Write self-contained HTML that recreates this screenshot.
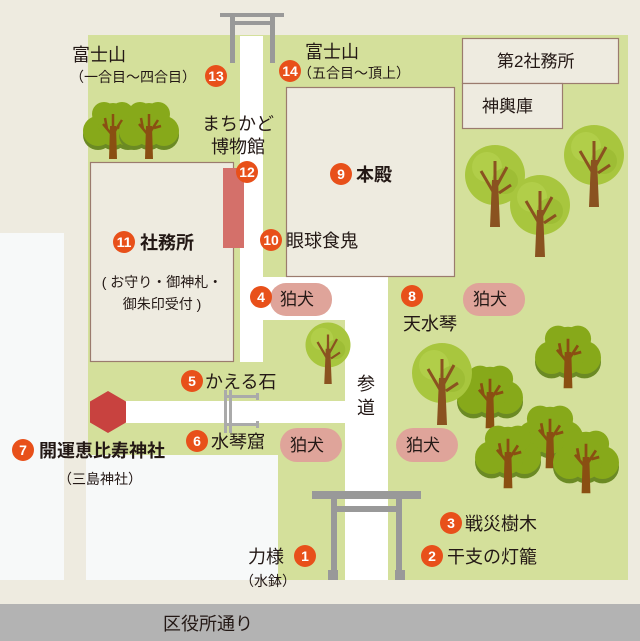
<!DOCTYPE html>
<html><head><meta charset="utf-8"><style>
html,body{margin:0;padding:0;background:#eeebe0}
svg{display:block}
text{font-family:"Liberation Sans","Noto Sans CJK JP",sans-serif;fill:#231815}
.b{font-weight:bold}
.n{fill:#fff;font-weight:bold;font-size:14px;text-anchor:middle}
</style></head><body>
<svg width="640" height="641" viewBox="0 0 640 641" xmlns="http://www.w3.org/2000/svg">
<defs>
<g id="rt">
 <g fill="#6b8a24">
  <circle cx="-15" cy="9" r="15"/><circle cx="15" cy="9" r="15"/><circle cx="0" cy="9" r="15"/>
 </g>
 <g fill="#87a91a">
  <circle cx="-15" cy="5" r="15"/><circle cx="15" cy="5" r="15"/><circle cx="0" cy="-6" r="17"/>
  <circle cx="-9" cy="-12" r="12"/><circle cx="9" cy="-12" r="12"/><circle cx="0" cy="6" r="14"/>
 </g>
 <polygon points="-3,0 3,0 4,33 -4,33" fill="#8a4f12"/>
 <path d="M0,10 L-10,-2 M0,8 L9,-6 M0,4 L0,-12 M-6,3 L-8,-8 M5,2 L12,0" stroke="#8a4f12" stroke-width="2.5" fill="none"/>
</g>
<g id="lt">
 <circle cx="0" cy="0" r="30" fill="#a8c63e"/>
 <circle cx="-8" cy="-8" r="15" fill="#b8d352" opacity=".6"/>
 <circle cx="10" cy="6" r="13" fill="#98b830" opacity=".6"/>
 <polygon points="-3,5 3,5 5,52 -5,52" fill="#8a5220"/>
 <path d="M0,20 L-14,-4 M0,14 L12,-8 M0,8 L0,-14 M4,18 L16,10" stroke="#8a5220" stroke-width="3" fill="none"/>
</g>
</defs>
<rect width="640" height="641" fill="#eeebe0"/>
<rect x="0" y="604" width="640" height="37" fill="#b3b3b3"/>
<rect x="88" y="35" width="540" height="545" fill="#d4e09b"/>
<rect x="0" y="233" width="64" height="347" fill="#f7f9f9"/>
<rect x="86" y="455" width="192" height="125" fill="#f7f9f9"/>
<rect x="240" y="36" width="23" height="326" fill="#fff"/>
<rect x="240" y="277" width="148" height="43" fill="#fff"/>
<rect x="345" y="277" width="43" height="303" fill="#fff"/>
<rect x="125" y="401" width="220" height="22" fill="#fff"/>
<rect x="286.5" y="87.5" width="168" height="189" fill="#eeebe0" stroke="#9b7b6e" stroke-width="1.2"/>
<rect x="90.5" y="162.5" width="143" height="199" fill="#eeebe0" stroke="#9b7b6e" stroke-width="1.2"/>
<rect x="223" y="168" width="21" height="80" fill="#d4706a"/>
<rect x="462.5" y="38.5" width="156" height="45" fill="#eeebe0" stroke="#9b7b6e" stroke-width="1.2"/>
<rect x="462.5" y="83.5" width="100" height="45" fill="#eeebe0" stroke="#9b7b6e" stroke-width="1.2"/>
<g fill="#999">
<rect x="220" y="13" width="64" height="4"/><rect x="232" y="21" width="40" height="4"/>
<rect x="230" y="17" width="5" height="46"/><rect x="270" y="17" width="5" height="46"/>
</g>
<g fill="#999">
<rect x="312" y="491" width="109" height="8"/><rect x="332" y="506" width="69" height="6"/>
<rect x="331" y="497" width="6" height="80"/><rect x="396" y="497" width="6" height="80"/>
<rect x="328" y="570" width="10" height="10"/><rect x="395" y="570" width="10" height="10"/>
</g>
<g fill="#aaa">
<rect x="224" y="390" width="3" height="43"/><rect x="229" y="390" width="3" height="43"/>
<rect x="224" y="395" width="35" height="3"/><rect x="224" y="423" width="35" height="3"/>
<rect x="256" y="393" width="3" height="7"/><rect x="256" y="421" width="3" height="7"/>
</g>
<polygon points="108,391 126,401.5 126,422.5 108,433 90,422.5 90,401.5" fill="#c8423f"/>
<g fill="#dfa49a">
<rect x="270" y="283" width="62" height="33" rx="16"/>
<rect x="463" y="283" width="62" height="33" rx="16"/>
<rect x="280" y="428" width="62" height="34" rx="17"/>
<rect x="396" y="428" width="62" height="34" rx="17"/>
</g>
<g font-size="17">
<text x="280" y="305">狛犬</text><text x="473" y="305">狛犬</text>
<text x="290" y="451">狛犬</text><text x="406" y="451">狛犬</text>
</g>
<use href="#rt" x="113" y="126"/><use href="#rt" x="149" y="126"/>
<g transform="translate(568,352) scale(1.1)"><use href="#rt"/></g>
<g transform="translate(490,392) scale(1.1)"><use href="#rt"/></g>
<g transform="translate(550,432) scale(1.1)"><use href="#rt"/></g>
<g transform="translate(508,452) scale(1.1)"><use href="#rt"/></g>
<g transform="translate(586,457) scale(1.1)"><use href="#rt"/></g>
<use href="#lt" x="495" y="175"/><use href="#lt" x="594" y="155"/><use href="#lt" x="540" y="205"/>
<use href="#lt" x="442" y="373"/>
<g transform="translate(328,345) scale(0.75)"><use href="#lt"/></g>
<g fill="#e8501a">
<circle cx="216" cy="76" r="11"/><circle cx="290" cy="71" r="11"/><circle cx="247" cy="172" r="11"/>
<circle cx="124" cy="242" r="11"/><circle cx="271" cy="240" r="11"/><circle cx="341" cy="174" r="11"/>
<circle cx="261" cy="297" r="11"/><circle cx="412" cy="296" r="11"/><circle cx="192" cy="381" r="11"/>
<circle cx="197" cy="441" r="11"/><circle cx="23" cy="450" r="11"/><circle cx="305" cy="556" r="11"/>
<circle cx="432" cy="556" r="11"/><circle cx="451" cy="523" r="11"/>
</g>
<g class="n">
<text class="n" x="216" y="81" font-size="12">13</text><text class="n" x="290" y="76" font-size="12">14</text>
<text class="n" x="247" y="177" font-size="12">12</text><text class="n" x="124" y="247" font-size="12">11</text>
<text class="n" x="271" y="245" font-size="12">10</text><text class="n" x="341" y="179">9</text>
<text class="n" x="261" y="302">4</text><text class="n" x="412" y="301">8</text>
<text class="n" x="192" y="386">5</text><text class="n" x="197" y="446">6</text>
<text class="n" x="23" y="455">7</text><text class="n" x="305" y="561">1</text>
<text class="n" x="432" y="561">2</text><text class="n" x="451" y="528">3</text>
</g>
<g font-size="18">
<text x="72" y="61">富士山</text>
<text x="305" y="58">富士山</text>
<text x="238" y="130" text-anchor="middle">まちかど</text>
<text x="238" y="153" text-anchor="middle">博物館</text>
<text x="140" y="249" class="b">社務所</text>
<text x="286" y="247">眼球食鬼</text>
<text x="356" y="181" class="b">本殿</text>
<text x="403" y="330">天水琴</text>
<text x="205" y="388">かえる石</text>
<text x="211" y="448">水琴窟</text>
<text x="39" y="457" class="b">開運恵比寿神社</text>
<text x="248" y="563">力様</text>
<text x="465" y="530">戦災樹木</text>
<text x="447" y="563">干支の灯籠</text>
<text x="163" y="630">区役所通り</text>
<text x="357" y="390">参</text>
<text x="357" y="414">道</text>
</g>
<g font-size="17">
<text x="497" y="67">第2社務所</text>
<text x="482" y="112">神輿庫</text>
</g>
<g font-size="14">
<text x="70" y="82">（一合目〜四合目）</text>
<text x="298" y="78">（五合目〜頂上）</text>
<text x="162" y="287" text-anchor="middle">( お守り・御神札・</text>
<text x="162" y="309" text-anchor="middle">御朱印受付 )</text>
<text x="58" y="484">（三島神社）</text>
<text x="240" y="586">（水鉢）</text>
</g>
</svg>
</body></html>
